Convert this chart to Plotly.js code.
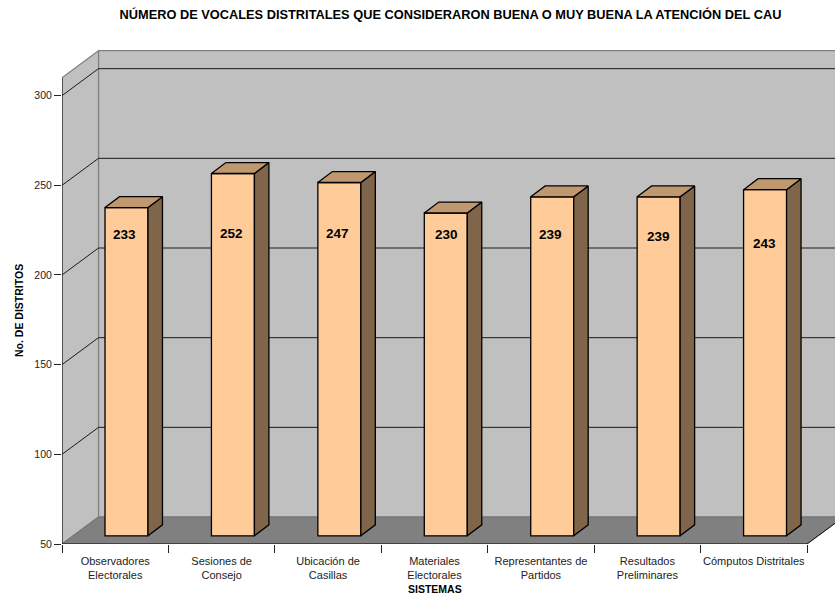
<!DOCTYPE html>
<html>
<head>
<meta charset="utf-8">
<script src="https://cdn.plot.ly/plotly-3.0.1.min.js"></script>
<style>html,body{margin:0;padding:0;background:#fff}</style>
</head>
<body>
<div id="chart" style="width:835px;height:598px"></div>
<script>
// Chart data
const categories = ["Observadores<br>Electorales", "Sesiones de<br>Consejo", "Ubicación de<br>Casillas",
  "Materiales<br>Electorales", "Representantes de<br>Partidos", "Resultados<br>Preliminares", "Cómputos Distritales"];
const values = [233, 252, 247, 230, 239, 239, 243];
const valueTicks = [50, 100, 150, 200, 250, 300];

// Where each value label sits on the y scale, and its nudge in pixels along x
const labelHeights = [222.4, 223.4, 223.4, 222.8, 222.8, 221.7, 217.8];
const labelNudges = [-2.2, -1.2, -1.6, 1.2, -2.2, -0.6, -0.3];

// Pseudo-3D box: depth of the chart walls and of the bars, in axis units
const yMin = 50, yMax = 326, wallTop = 310;
const xMax = 7.263;
const depthX = 0.343, depthY = 15.04;     // chart box depth
const barDepthX = 0.136, barDepthY = 6.1; // bar depth
const barLeft = 0.404, barWidth = 0.404;  // bar placement inside a category slot
const floorInset = 4.57;                  // bars stand slightly back from the front edge

const fontFamily = '"Liberation Sans", Arial, sans-serif';
const slots = categories.map((_, i) => i + 0.5);
const barCentres = categories.map((_, i) => i + barLeft + barWidth / 2);

const poly = pts => 'M' + pts.map(p => p[0] + ',' + p[1]).join(' L') + ' Z';
const seg = pts => 'M' + pts.map(p => p[0] + ',' + p[1]).join(' L');

// Walls, floor and frame lines sit beneath every trace
const shapes = [
  { type: 'path', layer: 'below', path: poly([[depthX, yMin + depthY], [xMax + 1, yMin + depthY], [xMax + 1, wallTop + depthY], [depthX, wallTop + depthY]]),
    fillcolor: '#c0c0c0', line: { color: '#808080', width: 1.2 } },
  { type: 'path', layer: 'below', path: poly([[0, yMin], [depthX, yMin + depthY], [depthX, wallTop + depthY], [0, wallTop]]),
    fillcolor: '#c0c0c0', line: { color: '#808080', width: 1.2 } },
  { type: 'path', layer: 'below', path: poly([[0, yMin], [7, yMin], [7 + depthX, yMin + depthY], [depthX, yMin + depthY]]),
    fillcolor: '#808080', line: { color: '#6e6e6e', width: 1 } },
  { type: 'path', layer: 'below', path: seg([[7, yMin], [7 + depthX, yMin + depthY]]), line: { color: '#111', width: 1 } },
  { type: 'path', layer: 'below', path: seg([[0, wallTop], [0, yMin], [7, yMin]]), line: { color: '#111', width: 1 } }
];

// Grid lines run across the left wall and then along the back wall
const gridX = [], gridY = [];
valueTicks.filter(v => v > yMin).forEach(v => {
  gridX.push(0, depthX, xMax + 1, null);
  gridY.push(v, v + depthY, v + depthY, null);
});

// Side and top faces of each bar, built from its value
const sideX = [], sideY = [], topX = [], topY = [];
values.forEach((v, i) => {
  const l = i + barLeft, r = l + barWidth;
  sideX.push(r, r + barDepthX, r + barDepthX, r, r, null);
  sideY.push(yMin, yMin + barDepthY, v + barDepthY, v, yMin, null);
  topX.push(l, r, r + barDepthX, l + barDepthX, l, null);
  topY.push(v, v, v + barDepthY, v + barDepthY, v, null);
});

const traces = [
  { type: 'scatter', mode: 'lines', x: gridX, y: gridY, connectgaps: false,
    line: { color: '#1a1a1a', width: 1 }, hoverinfo: 'skip', showlegend: false },
  { type: 'bar', x: barCentres, y: values.map(v => v - yMin), base: yMin, width: barWidth, yaxis: 'y2',
    marker: { color: '#ffcc99', line: { color: '#000', width: 1.3 } }, hovertemplate: '%{customdata}<extra></extra>',
    customdata: values, showlegend: false },
  { type: 'scatter', mode: 'lines', x: sideX, y: sideY, yaxis: 'y2', fill: 'toself', fillcolor: '#7f6549',
    line: { color: '#000', width: 1.3 }, hoverinfo: 'skip', showlegend: false },
  { type: 'scatter', mode: 'lines', x: topX, y: topY, yaxis: 'y2', fill: 'toself', fillcolor: '#c09870',
    line: { color: '#000', width: 1.3 }, hoverinfo: 'skip', showlegend: false }
];

const annotations = values.map((v, i) => ({
  x: barCentres[i], y: labelHeights[i], xref: 'x', yref: 'y', xshift: labelNudges[i], text: String(v), showarrow: false,
  font: { family: fontFamily, size: 13.5, color: '#000', weight: 700 }
}));

// Axis names, placed off the axes' own centres
annotations.push(
  { xref: 'paper', yref: 'paper', xanchor: 'center', yanchor: 'middle', x: (434.5 - 62) / 773, y: -(590 - 544.5) / 495.4,
    text: 'SISTEMAS', showarrow: false,
    font: { family: fontFamily, size: 10.5, color: '#000', weight: 700 } },
  { xref: 'paper', yref: 'paper', xanchor: 'center', yanchor: 'middle', x: (18.3 - 62) / 773, y: (544.5 - 311) / 495.4,
    text: 'No. DE DISTRITOS', showarrow: false, textangle: -90,
    font: { family: fontFamily, size: 10.5, color: '#000', weight: 700 } }
);

const layout = {
  width: 835, height: 598,
  margin: { l: 62, r: 0, t: 49.1, b: 53.5, pad: 0 },
  paper_bgcolor: '#fff', plot_bgcolor: 'rgba(0,0,0,0)',
  showlegend: false, bargap: 0, dragmode: false,
  title: { text: 'NÚMERO DE VOCALES DISTRITALES QUE CONSIDERARON BUENA O MUY BUENA LA ATENCIÓN DEL CAU',
    x: 450.5 / 835, xanchor: 'center', y: 1 - 15 / 598, yanchor: 'middle',
    font: { family: fontFamily, size: 12.8, color: '#000', weight: 700 } },
  xaxis: {
    range: [0, xMax], showgrid: false, zeroline: false, showline: false, fixedrange: true,
    tickmode: 'array', tickvals: slots, ticktext: categories, ticks: '', ticklen: 0, ticklabelstandoff: 9,
    tickfont: { family: fontFamily, size: 11, color: '#222' }, tickangle: 0,
    minor: { tickmode: 'array', tickvals: categories.map((_, i) => i).concat(categories.length),
      ticks: 'outside', ticklen: 8, tickwidth: 1, tickcolor: '#222', showgrid: false }
  },
  yaxis: {
    range: [yMin, yMax], showgrid: false, zeroline: false, showline: false, fixedrange: true,
    tickmode: 'array', tickvals: valueTicks, ticks: 'outside', ticklen: 7, tickwidth: 1, tickcolor: '#222',
    tickfont: { family: fontFamily, size: 10.5, color: '#222' }
  },
  // Same scale as the visible axis, lifted so the bars start on the floor behind the front edge
  yaxis2: { overlaying: 'y', range: [yMin - floorInset, yMax - floorInset], visible: false, fixedrange: true },
  shapes, annotations
};

Plotly.newPlot('chart', traces, layout, { displayModeBar: false, staticPlot: true });
</script>
</body>
</html>
